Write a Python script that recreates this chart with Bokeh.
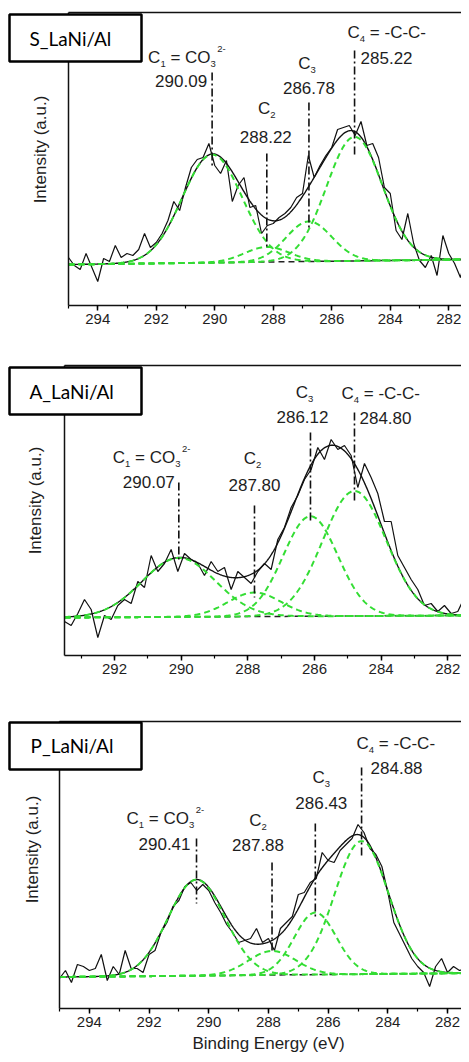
import numpy as np
from bokeh.plotting import figure
from bokeh.models import Range1d, LinearAxis, FixedTicker, SingleIntervalTicker, Label
from bokeh.layouts import column
from bokeh.embed import file_html
from bokeh.resources import INLINE

# ---------------- data ----------------
samples = ["S_LaNi/Al", "A_LaNi/Al", "P_LaNi/Al"]
scan_step = 0.2  # eV

# raw C 1s spectra (a.u.), scan from high to low binding energy
s_scan_start = 295.0
s_intensity = [48, 40, 36, 52, 38, 24, 47, 44, 60, 48,
               52, 50, 56, 72, 58, 63, 72, 85, 104, 95,
               118, 138, 146, 148, 162, 140, 132, 145, 104, 120,
               128, 98, 100, 72, 80, 82, 88, 92, 98, 108,
               112, 150, 128, 140, 150, 158, 176, 178, 180, 170,
               184, 160, 162, 148, 118, 112, 75, 66, 92, 62,
               45, 38, 50, 30, 70, 52, 42, 28, 50, 58]

a_scan_start = 293.5
a_intensity = [34, 30, 42, 56, 46, 18, 40, 36, 50, 56,
               52, 74, 68, 100, 84, 92, 106, 84, 102, 96,
               92, 80, 94, 84, 88, 66, 84, 78, 72, 84,
               92, 86, 116, 128, 148, 160, 176, 186, 208, 196,
               216, 206, 210, 200, 168, 192, 178, 162, 134, 134,
               100, 88, 76, 66, 50, 52, 44, 50, 42, 44,
               58, 36, 38]

p_scan_start = 295.0
p_intensity = [30, 38, 26, 44, 42, 38, 40, 54, 28, 42,
               34, 58, 40, 40, 36, 54, 58, 76, 86, 102,
               108, 122, 126, 118, 124, 118, 106, 96, 84, 76,
               66, 68, 70, 80, 66, 70, 58, 80, 86, 92,
               114, 116, 126, 130, 156, 148, 146, 158, 164, 170,
               184, 176, 160, 154, 142, 116, 86, 74, 62, 50,
               42, 36, 22, 42, 50, 36, 42, 38, 40, 38]

# fitted components C1..C4: centre (eV), height (a.u.), FWHM (eV)
s_centers = [290.09, 288.22, 286.78, 285.22]
s_heights = [108, 15, 40, 124]
s_fwhm = [2.40, 1.79, 1.84, 2.24]
s_background = [41.0, 46.1]      # at scan start / scan end

a_centers = [290.07, 287.80, 286.12, 284.80]
a_heights = [59, 24, 100, 125]
a_fwhm = [2.59, 1.88, 1.93, 2.24]
a_background = [38.0, 40.1]

p_centers = [290.41, 287.88, 286.43, 284.88]
p_heights = [96, 24, 62, 133]
p_fwhm = [2.24, 1.88, 1.65, 2.12]
p_background = [31.5, 35.4]

species = [
    [("C", "n"), ("1", "sub"), (" = CO", "n"), ("3", "sub"), ("2-", "sup")],
    [("C", "n"), ("2", "sub")],
    [("C", "n"), ("3", "sub")],
    [("C", "n"), ("4", "sub"), (" = -C-C-", "n")],
]
y_title = "Intensity (a.u.)"
x_title = "Binding Energy (eV)"

# ---------------- layout (pixels) ----------------
W = 461
layouts = [
    dict(h=335, base=305, top=293, axis_e=295.0, axis_px=68, ppe=29.25,
         vline=[(233, 140), (152, 57), (203, 78), (255, 148)],
         sp=[("left", -64, 248), ("center", 0, 197), ("center", -2, 242), ("left", -7, 273)],
         num=[("right", -5, 225), ("center", -1, 169), ("center", 0, 218), ("left", 6, 248)],
         box=(9, 141, 291, 244), box_text=(29, 267), ylab=(40, 156)),
    dict(h=350, base=320, top=290, axis_e=293.5, axis_px=64, ppe=33.33,
         vline=[(173, 95), (150, 58), (223, 132), (243, 152)],
         sp=[("left", -66, 198), ("center", -2, 197), ("center", -6, 263), ("left", -13, 262)],
         num=[("right", -4, 174), ("center", 0, 171), ("center", -8, 239), ("left", 5, 238)],
         box=(9, 141, 288, 241), box_text=(29, 264), ylab=(35, 155)),
    dict(h=369, base=323, top=287, axis_e=295.0, axis_px=59, ppe=29.85,
         vline=[(170, 105), (146, 55), (185, 91), (241, 150)],
         sp=[("left", -70, 190), ("center", -14, 188), ("center", 6, 231), ("left", -5, 265)],
         num=[("right", -6, 165), ("center", -14, 164), ("center", 6, 206), ("left", 9, 241)],
         box=(9, 141, 286, 239), box_text=(30, 263), ylab=(32, 159), xlab=(268, -35)),
]

FONT = "Liberation Sans"
TXT = "#1e1e1e"
GREEN = "#33dd33"
ADV = {"C": .722, "O": .778, "=": .584, "-": .333, " ": .278, ".": .278}
SIZES = {"n": 17, "sub": 9.5, "sup": 9.5}
SHIFT = {"n": 0, "sub": -6.5, "sup": 8.5}


def text_w(s, size):
    return sum(ADV.get(ch, .556) for ch in s) * size


def add_rich(p, x, y, pieces, align, dx):
    total = sum(text_w(t, SIZES[k]) for t, k in pieces)
    cur = dx if align == "left" else (dx - total / 2 if align == "center" else dx - total)
    for t, k in pieces:
        body = t.lstrip(" ")
        cur += text_w(t[:len(t) - len(body)], SIZES[k])
        if k == "sup":
            cur += 1.5
        p.add_layout(Label(x=x, y=y + SHIFT[k], x_offset=cur, text=body, text_font=FONT,
                           text_font_size=f"{SIZES[k]}px", text_color=TXT,
                           text_align="left", text_baseline="middle"))
        cur += text_w(body, SIZES[k])


def gauss(e, c, h, w):
    return h * np.exp(-4 * np.log(2) * (e - c) ** 2 / w ** 2)


def blank_axis(ax, loc, bounds):
    ax.ticker = FixedTicker(ticks=[])
    ax.major_label_text_font_size = "0px"
    ax.major_tick_out = 0
    ax.major_tick_in = 0
    ax.minor_tick_out = 0
    ax.minor_tick_in = 0
    ax.axis_line_width = 1.5
    ax.axis_line_color = "#111111"
    ax.fixed_location = loc
    ax.bounds = bounds


def build(cfg, name, scan_start, intensity, centers, heights, fwhm, background, last):
    ppe = cfg["ppe"]
    x_left = cfg["axis_e"] + cfg["axis_px"] / ppe
    x_right = x_left - W / ppe
    px2e = lambda px: x_left - px / ppe
    base = cfg["base"]
    p = figure(width=W, height=cfg["h"],
               x_range=Range1d(x_left, x_right), y_range=Range1d(base - cfg["h"], base),
               output_backend="svg", toolbar_location=None,
               min_border=0, outline_line_color=None, background_fill_color="white",
               border_fill_color="white")
    p.xgrid.visible = False
    p.ygrid.visible = False
    xb = (x_right - 1, cfg["axis_e"])

    xa = p.xaxis[0]
    xa.ticker = SingleIntervalTicker(interval=2, num_minor_ticks=2)
    xa.fixed_location = 0
    xa.bounds = xb
    xa.major_tick_out = 5
    xa.major_tick_in = 0
    xa.minor_tick_out = 3
    xa.minor_tick_in = 0
    xa.axis_line_width = 1.5
    xa.axis_line_color = "#111111"
    xa.major_tick_line_width = 1.5
    xa.minor_tick_line_width = 1.2
    xa.major_label_text_font = FONT
    xa.major_label_text_font_size = "15px"
    xa.major_label_text_color = TXT
    xa.major_label_standoff = 3

    blank_axis(p.yaxis[0], cfg["axis_e"], (0, cfg["top"]))
    top = LinearAxis()
    blank_axis(top, cfg["top"], xb)
    p.add_layout(top, "above")

    e = np.round(scan_start - scan_step * np.arange(len(intensity)), 2)
    e_end = float(e[-1])
    ef = np.linspace(cfg["axis_e"], e_end, 800)
    bg = np.interp(ef, [e_end, scan_start], [background[1], background[0]])

    p.line([scan_start, e_end], background, line_color="#222222", line_width=1.5,
           line_dash="6 4")
    p.line(e, intensity, line_color="#111111", line_width=1.2)
    env = bg.copy()
    comps = []
    for c, h, w in zip(centers, heights, fwhm):
        g = gauss(ef, c, h, w)
        env = env + g
        comps.append(bg + g)
    p.line(ef, env, line_color="#111111", line_width=1.4)
    for comp in comps:
        p.line(ef, comp, line_color=GREEN, line_width=2, line_dash="6 4")

    y0s = [v[0] for v in cfg["vline"]]
    y1s = [v[1] for v in cfg["vline"]]
    p.segment(x0=centers, y0=y0s, x1=centers, y1=y1s, line_color="#111111",
              line_width=1.6, line_dash="8 3 2 3")

    for i, c in enumerate(centers):
        al, dx, yy = cfg["sp"][i]
        add_rich(p, c, yy, species[i], al, dx)
        al, dx, yy = cfg["num"][i]
        p.add_layout(Label(x=c, y=yy, x_offset=dx, text=f"{c:.2f}", text_font=FONT,
                           text_font_size="17px", text_color=TXT, text_align=al,
                           text_baseline="middle"))

    # sample name box
    bl, br, bt, bb = cfg["box"]
    p.quad(left=[px2e(bl)], right=[px2e(br)], top=[bt], bottom=[bb], fill_color="white",
           line_color="black", line_width=2.5, level="annotation")
    tx, ty = cfg["box_text"]
    p.add_layout(Label(x=px2e(tx), y=ty, text=name, text_font="Lato",
                       text_font_size="19px", text_color="black", text_align="left",
                       text_baseline="middle", level="overlay"))

    lx, ly = cfg["ylab"]
    p.add_layout(Label(x=px2e(lx), y=ly, text=y_title, angle=np.pi / 2,
                       text_font=FONT, text_font_size="17px", text_color=TXT,
                       text_align="center", text_baseline="middle"))
    if last:
        tx, ty = cfg["xlab"]
        p.add_layout(Label(x=px2e(tx), y=ty, text=x_title,
                           text_font=FONT, text_font_size="17px", text_color=TXT,
                           text_align="center", text_baseline="middle"))
    return p


p1 = build(layouts[0], samples[0], s_scan_start, s_intensity, s_centers, s_heights, s_fwhm,
           s_background, False)
p2 = build(layouts[1], samples[1], a_scan_start, a_intensity, a_centers, a_heights, a_fwhm,
           a_background, False)
p3 = build(layouts[2], samples[2], p_scan_start, p_intensity, p_centers, p_heights, p_fwhm,
           p_background, True)

p = column(p1, p2, p3, spacing=0)
open("out.html", "w").write(file_html(p, INLINE))
